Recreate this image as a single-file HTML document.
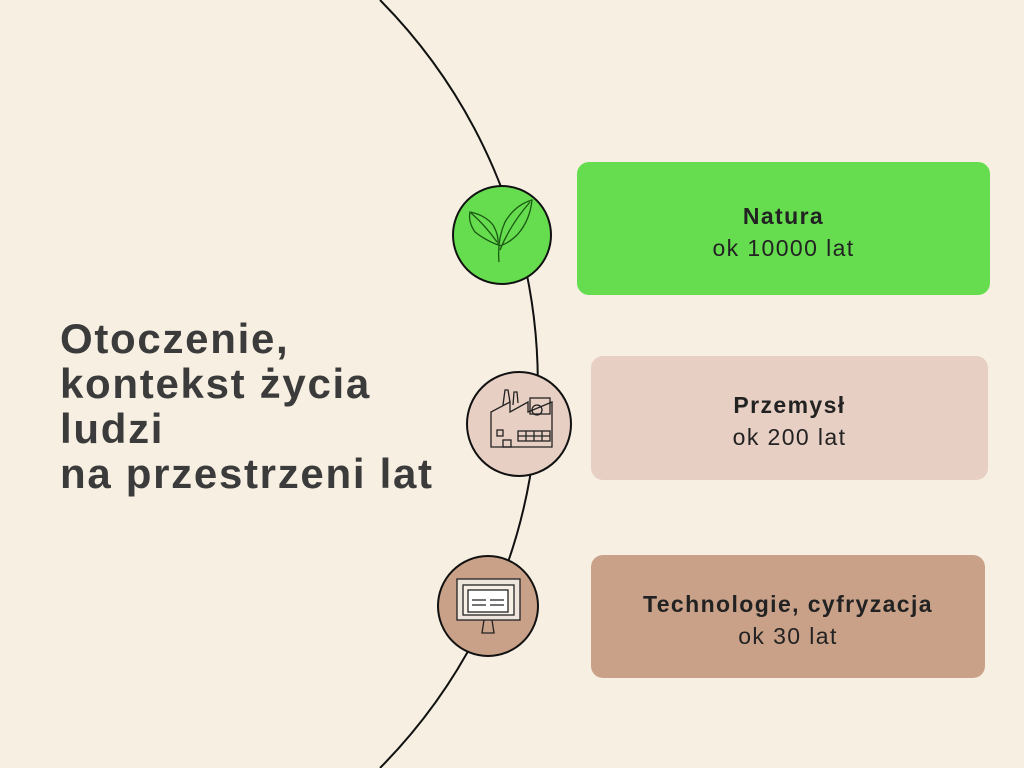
<!DOCTYPE html>
<html><head><meta charset="utf-8"><style>
html,body{margin:0;width:1024px;height:768px;overflow:hidden}
body{background:#f6efe2;position:relative;font-family:"Liberation Sans",sans-serif}
.t{position:absolute;left:60px;top:316px;font-size:42px;font-weight:bold;line-height:45px;color:#3b3b3b;letter-spacing:1.7px;white-space:nowrap}
.b{position:absolute;border-radius:12px;text-align:center;color:#222;font-size:23px;line-height:32px;letter-spacing:1.4px;display:flex;flex-direction:column;justify-content:center;padding-top:6px;box-sizing:border-box}
svg{position:absolute;left:0;top:0;width:1024px;height:768px;overflow:hidden}
</style></head><body>
<svg width="1024" height="768" viewBox="0 0 1024 768">
<path d="M380 0 A546 546 0 0 1 380 768" fill="none" stroke="#111" stroke-width="2"/>
<circle cx="502" cy="235" r="49" fill="#66dd4f" stroke="#111" stroke-width="2"/>
<g fill="none" stroke="#1a5a12" stroke-width="1.3">
<path d="M499 262 Q497 240 505 222 Q515 205 532 200 Q530 220 518 234 Q508 244 499 246"/>
<path d="M500 250 Q510 225 530 202"/>
<path d="M498 245 Q485 240 475 232 Q468 222 470 212 Q485 215 493 225 Q499 235 498 245"/>
<path d="M497 242 Q485 225 471 213"/>
</g>
<circle cx="519" cy="424" r="52" fill="#e8cfc3" stroke="#111" stroke-width="2"/>
<g fill="none" stroke="#222" stroke-width="1.3">
<path d="M491 447 V412 L510 402 V412 L528 402 V412 L552 402 V447 Z"/>
<path d="M503 405 L505 390 L508 390 L510 402"/><path d="M513 405 L514 392 L517 392 L518 403"/>
<rect x="530" y="398" width="20" height="16"/><circle cx="537" cy="410" r="5"/>
<rect x="518" y="431" width="32" height="10"/><path d="M526 431V441M534 431V441M542 431V441M518 436H550"/>
<rect x="497" y="430" width="6" height="6"/><rect x="503" y="440" width="8" height="7"/>
</g>
<circle cx="488" cy="606" r="50" fill="#c9a188" stroke="#111" stroke-width="2"/>
<g fill="none" stroke="#222" stroke-width="1.3">
<rect x="457" y="579" width="63" height="41" fill="#eee5dc"/>
<rect x="463" y="585" width="51" height="30" fill="#f7f0e6"/>
<rect x="468" y="590" width="40" height="22" fill="#fff"/>
<path d="M472 600H486M490 600H504M472 605H486M490 605H504"/>
<path d="M484 620 L482 633 H494 L492 620"/>
</g>
</svg>
<div class="t">Otoczenie,<br>kontekst życia<br>ludzi<br>na przestrzeni lat</div>
<div class="b" style="left:577px;top:162px;width:413px;height:133px;background:#66dd4f"><b>Natura</b>ok 10000 lat</div>
<div class="b" style="left:591px;top:356px;width:397px;height:124px;background:#e8cfc3"><b>Przemysł</b>ok 200 lat</div>
<div class="b" style="left:591px;top:555px;width:394px;height:123px;background:#c9a188"><b>Technologie, cyfryzacja</b>ok 30 lat</div>
</body></html>
